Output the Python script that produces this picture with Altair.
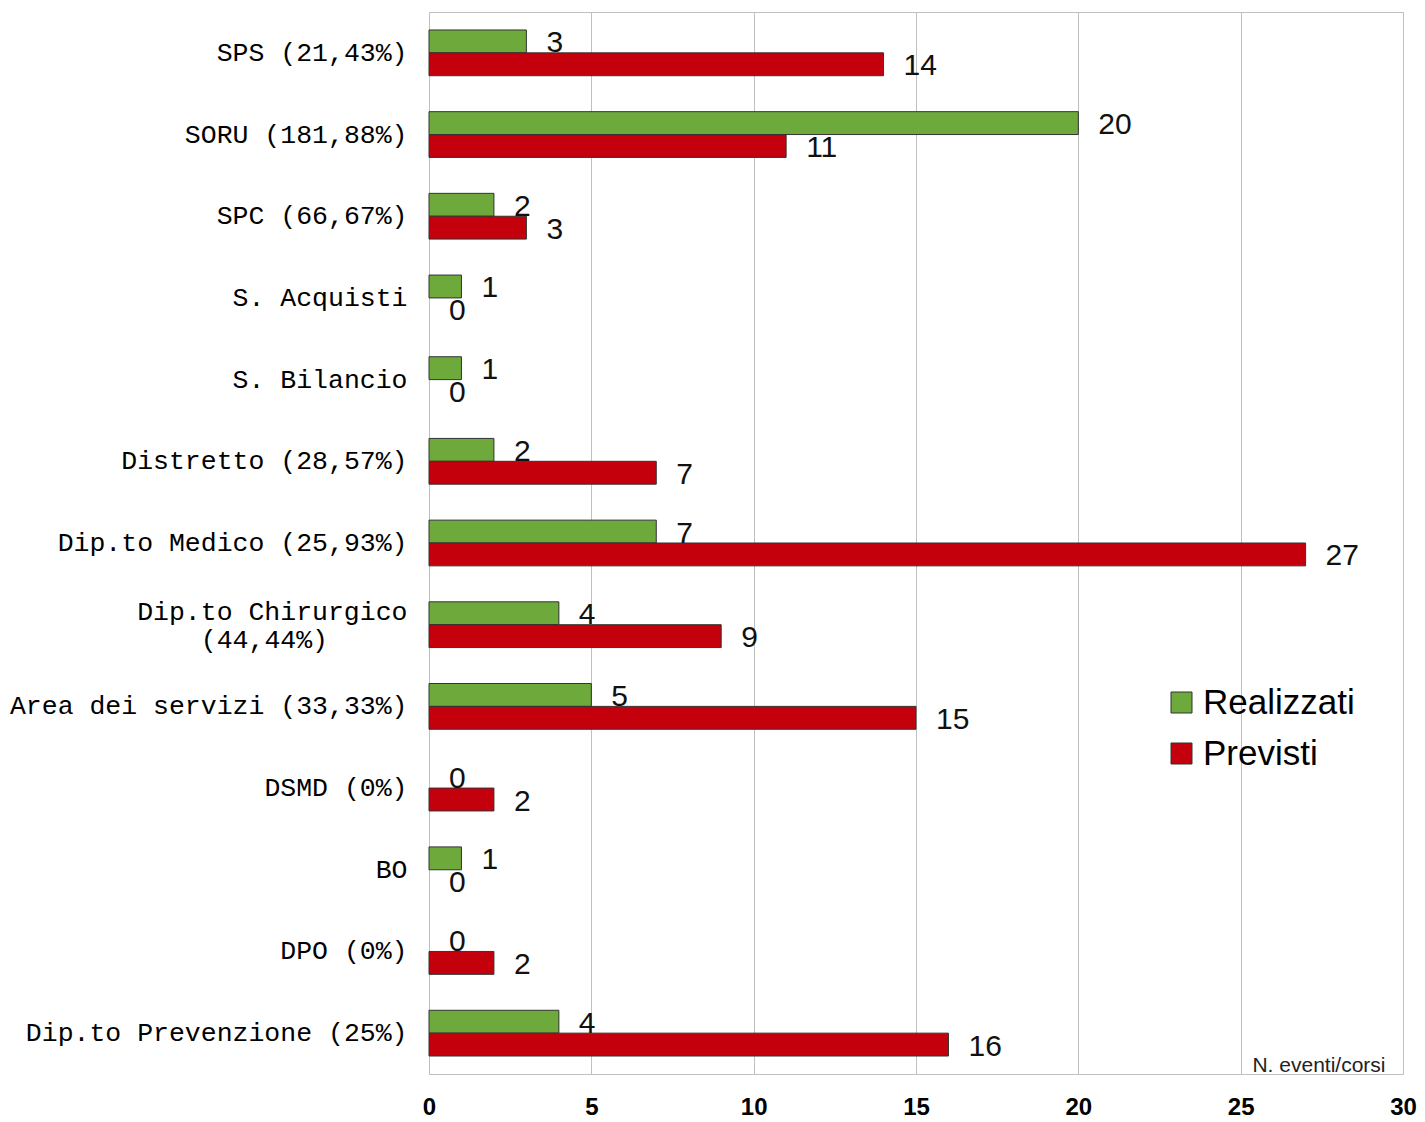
import altair as alt
import pandas as pd

categories = [
    "SPS (21,43%)",
    "SORU (181,88%)",
    "SPC (66,67%)",
    "S. Acquisti",
    "S. Bilancio",
    "Distretto (28,57%)",
    "Dip.to Medico (25,93%)",
    "Dip.to Chirurgico|(44,44%)\u2003\u2003\u2003\u200b",
    "Area dei servizi (33,33%)",
    "DSMD (0%)",
    "BO",
    "DPO (0%)",
    "Dip.to Prevenzione (25%)",
]
realizzati = [3, 20, 2, 1, 1, 2, 7, 4, 5, 0, 1, 0, 4]
previsti = [14, 11, 3, 0, 0, 7, 27, 9, 15, 2, 0, 2, 16]
series = ["Realizzati", "Previsti"]
colors = ["#6DAA3B", "#C3000B"]
x_ticks = [0, 5, 10, 15, 20, 25, 30]

rows = []
for c, r, p in zip(categories, realizzati, previsti):
    rows.append({"cat": c, "serie": "Realizzati", "val": r})
    rows.append({"cat": c, "serie": "Previsti", "val": p})
df = pd.DataFrame(rows)

y_enc = alt.Y(
    "cat:N",
    sort=categories,
    scale=alt.Scale(paddingInner=0.44, paddingOuter=0.22),
    axis=alt.Axis(
        title=None,
        labelExpr="split(datum.label, '|')",
        labelFont="Liberation Mono",
        labelFontSize=26.5,
        labelColor="#000000",
        labelPadding=22,
        labelLimit=500,
        labelLineHeight=28,
        labelOffset={"condition": {"test": "indexof(datum.value, '|') >= 0", "value": -13}, "value": 0},
        ticks=False,
        domain=False,
    ),
)
yoff_enc = alt.YOffset("serie:N", sort=series, scale=alt.Scale(paddingInner=0, paddingOuter=0))

x_enc = alt.X(
    "val:Q",
    scale=alt.Scale(domain=[0, 30]),
    axis=alt.Axis(
        values=x_ticks,
        title="N. eventi/corsi",
        titleFont="Liberation Sans Narrow, Liberation Sans",
        titleFontSize=21,
        titleFontWeight="normal",
        titleColor="#222222",
        titleAnchor="end",
        titleAlign="right",
        titleBaseline="bottom",
        titleX=956,
        titleY=1,
        labelFont="Liberation Sans Narrow, Liberation Sans",
        labelFontSize=24,
        labelFontWeight="bold",
        labelColor="#000000",
        labelPadding=21,
        labelFlush=False,
        ticks=False,
        domain=False,
        grid=True,
        gridColor="#c0c0c0",
        gridWidth=1,
    ),
)

bars = alt.Chart(df).mark_bar(stroke="#333333", strokeWidth=1).encode(
    y=y_enc,
    yOffset=yoff_enc,
    x=x_enc,
    strokeOpacity=alt.condition("datum.val > 0", alt.value(1), alt.value(0)),
    color=alt.Color(
        "serie:N",
        sort=series,
        scale=alt.Scale(domain=series, range=colors),
        legend=alt.Legend(
            title=None,
            orient="none",
            legendX=735,
            legendY=673,
            symbolType="square",
            symbolSize=441,
            symbolStrokeColor="#333333",
            symbolStrokeWidth=1,
            labelFont="Liberation Sans",
            labelFontSize=35,
            labelColor="#000000",
            rowPadding=15,
            labelOffset=4,
        ),
    ),
)

labels = alt.Chart(df).mark_text(
    align="left", baseline="middle", dx=20, dy=2,
    font="Liberation Sans", fontSize=30, color="#111111"
).encode(
    y=alt.Y("cat:N", sort=categories),
    yOffset=alt.YOffset("serie:N", sort=series),
    x=alt.X("val:Q"),
    text="val:Q",
)

chart = (bars + labels).properties(
    width=974, height=1062,
    padding={"left": 1, "top": 4, "right": 0, "bottom": 2},
).configure_view(stroke="#c0c0c0", strokeWidth=1)

chart.save("out.html", embed_options={"renderer": "svg", "actions": False})
